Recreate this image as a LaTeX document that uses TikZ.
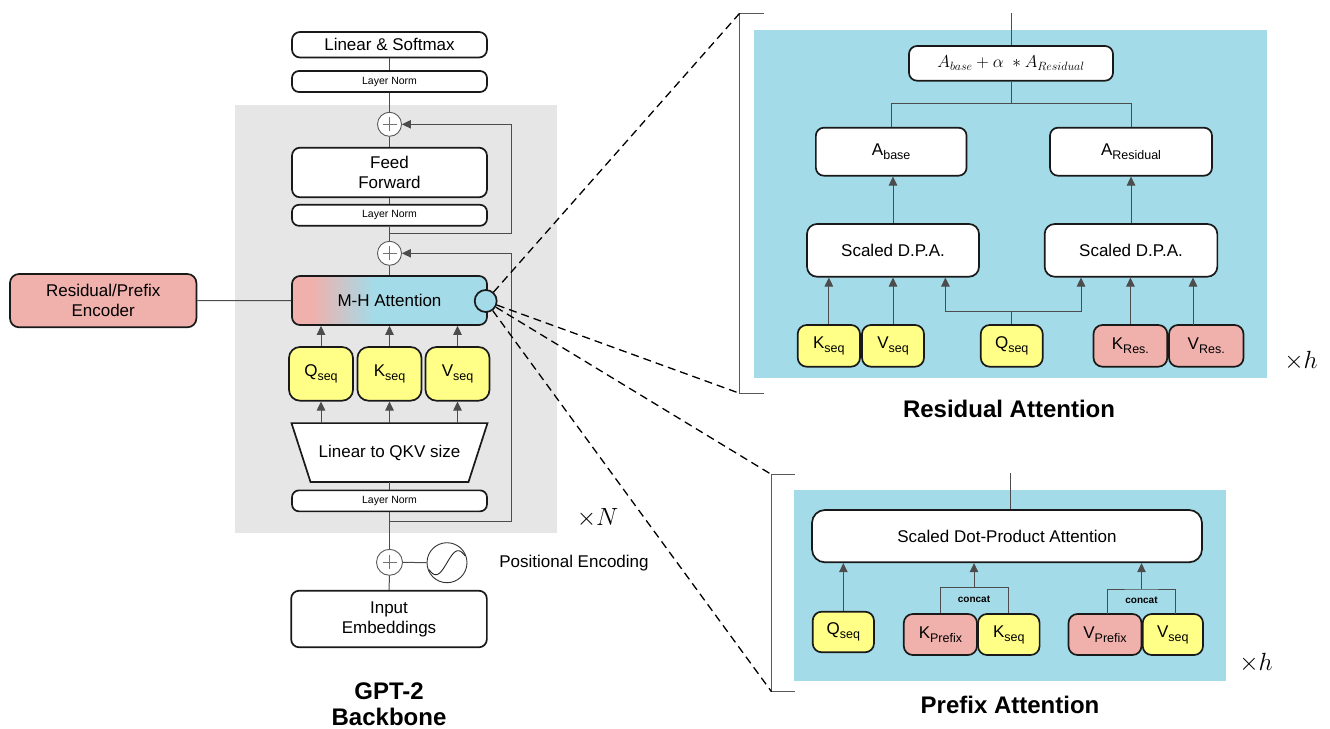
\documentclass[tikz,border=0pt]{standalone}
\usepackage{fontspec}
\setmainfont{Liberation Sans}
\usetikzlibrary{arrows.meta}
\definecolor{graybg}{RGB}{230,230,230}
\definecolor{attblue}{RGB}{164,219,232}
\definecolor{seqyellow}{RGB}{255,255,136}
\definecolor{encpink}{RGB}{240,176,172}
\pgfdeclarehorizontalshading{mhsh}{100bp}{color(0bp)=(encpink); color(30bp)=(encpink); color(46bp)=(attblue); color(100bp)=(attblue)}
\newcommand\sbs[1]{\raisebox{-4pt}{\fontsize{12.5}{13}\selectfont #1}}
\begin{document}
\begin{tikzpicture}[x=1pt,y=-1pt,
  box/.style={draw=black!90, line width=1.7pt, rounded corners=8pt, fill=white, inner sep=0pt, align=center, font=\fontsize{17}{20}\selectfont},
  lnbox/.style={box, rounded corners=7pt, font=\fontsize{10.5}{12}\selectfont, minimum width=195pt, minimum height=21pt},
  yel/.style={box, fill=seqyellow, rounded corners=11pt},
  pnk/.style={box, fill=encpink, rounded corners=11pt},
  conn/.style={draw=black!70, line width=1pt},
  arr/.style={conn, -{Triangle[length=9pt,width=8.5pt]}},
  plusc/.style={circle, draw=black!65, line width=0.9pt, fill=white, minimum size=24pt, inner sep=0pt},
  plusl/.style={draw=black!55, line width=0.8pt},
  dsh/.style={draw=black, line width=1.3pt, dash pattern=on 8pt off 5pt},
  brk/.style={draw=black!65, line width=1.1pt},
  ttl/.style={font=\fontsize{24}{26}\selectfont\bfseries, align=center},
  lbl/.style={font=\fontsize{17}{20}\selectfont},
  mth/.style={font=\fontsize{26}{26}\selectfont}
]
\useasboundingbox (0,0) rectangle (1330,728);

% ---------- left: GPT-2 backbone ----------
\fill[graybg] (235,105) rectangle (557,532.5);

\node[box, minimum width=195pt, minimum height=25.5pt] (ls) at (389.5,44.75) {Linear \& Softmax};
\node[lnbox] (ln1) at (389.5,81.5) {Layer Norm};
\node[plusc] (p1) at (389.5,124.3) {};
\node[box, minimum width=195pt, minimum height=49.6pt] (ff) at (389.5,172.5) {Feed\\Forward};
\node[lnbox] (ln2) at (389.5,215.3) {Layer Norm};
\node[plusc] (p2) at (389.5,253.3) {};
\node[box, shade, shading=mhsh, minimum width=195pt, minimum height=49pt] (mh) at (389.5,300.5) {M-H Attention};
\node[pnk, rounded corners=9pt, minimum width=186.4pt, minimum height=53.3pt] (enc) at (103.2,300.65) {Residual/Prefix\\Encoder};
\node[yel, minimum width=64pt, minimum height=53.7pt] (q) at (321,373.85) {Q\sbs{seq}};
\node[yel, minimum width=64pt, minimum height=53.7pt] (k) at (389.5,373.85) {K\sbs{seq}};
\node[yel, minimum width=64pt, minimum height=53.7pt] (v) at (457.5,373.85) {V\sbs{seq}};
\node[inner sep=0pt, minimum width=195.6pt, minimum height=58.4pt] (trap) at (389.5,452.5) {};
\draw[draw=black!90, line width=1.7pt, fill=white] (trap.north west) -- (trap.north east) -- ([xshift=-19pt]trap.south east) -- ([xshift=19pt]trap.south west) -- cycle;
\node[font=\fontsize{17}{20}\selectfont] (traptxt) at (trap.center) {Linear to QKV size};
\node[lnbox] (ln3) at (389.5,500.85) {Layer Norm};
\node[plusc, minimum size=26pt] (p3) at (389.5,562.3) {};
\node[circle, draw=black!80, line width=0.9pt, fill=white, minimum size=40pt, inner sep=0pt] (sine) at (447,562.7) {};
\draw[black!85, line width=0.9pt, shift={(sine.center)}] plot[domain=-1:1, samples=40, smooth] ({18*\x},{-12*sin(145*\x)});
\node[box, minimum width=195.7pt, minimum height=56.6pt] (emb) at (389,619) {Input\\Embeddings};

\foreach \p in {p1,p2,p3}{
  \draw[plusl] ([xshift=-7pt]\p.center) -- ([xshift=7pt]\p.center) ([yshift=-7pt]\p.center) -- ([yshift=7pt]\p.center);
}

% main vertical line
\draw[conn] (ls.south) -- (ln1.north);
\draw[conn] (ln1.south) -- (p1.north);
\draw[conn] (p1.south) -- (ff.north);
\draw[conn] (ff.south) -- (ln2.north);
\draw[conn] (ln2.south) -- (p2.north);
\draw[conn] (p2.south) -- (mh.north);
\draw[conn] (trap.south) -- (ln3.north);
\draw[conn] (ln3.south) -- (p3.north);
\draw[conn] (p3.south) -- (emb.north);
\draw[conn] (p3.east) -- (sine.west);
\draw[conn] (enc.east) -- (mh.west);

% residual loops
\coordinate (l1s) at (389.5,233);
\coordinate (l1c) at (511.5,233);
\draw[arr] (l1s) -- (l1c) |- (p1.east);
\coordinate (l2s) at (389.5,521.7);
\coordinate (l2c) at (511.5,521.7);
\draw[arr] (l2s) -- (l2c) |- (p2.east);

% arrows Q K V
\foreach \n in {q,k,v}{
  \draw[arr] (\n.south |- trap.north) -- (\n.south);
  \draw[arr] (\n.north) -- (\n.north |- mh.south);
}

\node[circle, draw=black!90, line width=1.7pt, fill=attblue, minimum size=22pt, inner sep=0pt] (bc) at (485.7,301) {};

\node[mth] (xn) at (597.5,518) {$\times N$};
\node[lbl] (pe) at (574,562.7) {Positional Encoding};
\node[ttl] (gpt) at (389,704) {GPT-2\\Backbone};

% ---------- residual attention ----------
\fill[attblue] (753.8,30) rectangle (1266.5,377.7);
\coordinate (rbt) at (739.6,13.3);
\coordinate (rbb) at (739.6,393.3);
\coordinate (rbt2) at (763.8,13.3);
\coordinate (rbb2) at (763.8,393.3);
\draw[brk] (rbt2) -- (rbt) -- (rbb) -- (rbb2);

\node[box, minimum width=204pt, minimum height=34.7pt, font=\fontsize{17}{20}\selectfont] (form) at (1011,63.35) {$A_{base}+\alpha\;\ast A_{Residual}$};
\coordinate (rtop) at (1011,13);
\draw[conn] (rtop) -- (form.north);
\node[box, minimum width=150.7pt, minimum height=48pt] (ab) at (891.2,151.7) {A\sbs{base}};
\node[box, minimum width=162pt, minimum height=48pt] (ar) at (1131,151.7) {A\sbs{Residual}};
\coordinate (jn) at (1011,103.3);
\draw[conn] (form.south) -- (jn);
\draw[conn] (ab.north) |- (jn) -| (ar.north);
\node[box, rounded corners=10pt, minimum width=172pt, minimum height=52.7pt] (sd1) at (893,250.35) {Scaled D.P.A.};
\node[box, rounded corners=10pt, minimum width=172.7pt, minimum height=52.7pt] (sd2) at (1131,250.35) {Scaled D.P.A.};
\draw[arr] (sd1.north) -- (sd1.north |- ab.south);
\draw[arr] (sd2.north) -- (sd2.north |- ar.south);

\node[yel, rounded corners=9pt, minimum width=62.3pt, minimum height=41.7pt] (rk) at (828.85,345.85) {K\sbs{seq}};
\node[yel, rounded corners=9pt, minimum width=62pt, minimum height=41.7pt] (rv) at (893,345.85) {V\sbs{seq}};
\node[yel, rounded corners=9pt, minimum width=62pt, minimum height=41.7pt] (rq) at (1011.75,345.85) {Q\sbs{seq}};
\node[pnk, rounded corners=9pt, minimum width=73.8pt, minimum height=41.7pt] (rkr) at (1130.4,345.85) {K\sbs{Res.}};
\node[pnk, rounded corners=9pt, minimum width=74.5pt, minimum height=41.7pt] (rvr) at (1206.25,345.85) {V\sbs{Res.}};

\draw[arr] (rk.north) -- (rk.north |- sd1.south);
\draw[arr] (rv.north) -- (rv.north |- sd1.south);
\draw[arr] (rkr.north) -- (rkr.north |- sd2.south);
\coordinate (vra) at (1193,325);
\draw[arr] (vra) -- (vra |- sd2.south);
\coordinate (qj) at (1011.75,311.7);
\coordinate (qa1) at (945.4,311.7);
\coordinate (qa2) at (1081,311.7);
\draw[conn] (rq.north) -- (qj);
\draw[arr] (qj) -- (qa1) -- (qa1 |- sd1.south);
\draw[arr] (qj) -- (qa2) -- (qa2 |- sd2.south);

\node[mth] (xh1) at (1301,361) {$\times h$};
\node[ttl] (rat) at (1009,409) {Residual Attention};

% ---------- prefix attention ----------
\fill[attblue] (793.5,490) rectangle (1226,680.7);
\coordinate (pbt) at (771.5,474.5);
\coordinate (pbb) at (771.5,691.7);
\coordinate (pbt2) at (794.6,474.5);
\coordinate (pbb2) at (794.6,691.7);
\draw[brk] (pbt2) -- (pbt) -- (pbb) -- (pbb2);

\node[box, rounded corners=13pt, minimum width=390pt, minimum height=52.3pt] (psd) at (1007,536.15) {Scaled Dot-Product Attention};
\coordinate (ptop) at (1010,473);
\draw[conn] (ptop) -- (ptop |- psd.north);

\node[yel, rounded corners=9pt, minimum width=61.3pt, minimum height=40.6pt] (pq) at (843.35,632) {Q\sbs{seq}};
\node[pnk, rounded corners=9pt, minimum width=73.2pt, minimum height=41pt] (pkp) at (940.4,634.5) {K\sbs{Prefix}};
\node[yel, rounded corners=9pt, minimum width=61.6pt, minimum height=41pt] (pks) at (1008.8,634.5) {K\sbs{seq}};
\node[pnk, rounded corners=9pt, minimum width=73pt, minimum height=41pt] (pvp) at (1105,634.5) {V\sbs{Prefix}};
\node[yel, rounded corners=9pt, minimum width=60.3pt, minimum height=41pt] (pvs) at (1172.85,634.5) {V\sbs{seq}};

\draw[arr] (pq.north) -- (pq.north |- psd.south);
\coordinate (kc) at (974,587.3);
\draw[conn] (pkp.north) |- (kc) -| (pks.north);
\draw[arr] (kc) -- (kc |- psd.south);
\node[font=\fontsize{10}{12}\selectfont\bfseries] (kcl) at (974,599) {concat};
\coordinate (vc) at (1141.5,589);
\coordinate (vcl0) at (1107.7,614);
\coordinate (vcr0) at (1175.4,614);
\draw[conn] (vcl0) |- (vc) -| (vcr0);
\draw[arr] (vc) -- (vc |- psd.south);
\node[font=\fontsize{10}{12}\selectfont\bfseries] (vcl) at (1141.5,600.5) {concat};

\node[mth] (xh2) at (1256,663) {$\times h$};
\node[ttl] (pat) at (1010,705) {Prefix Attention};

% ---------- dashed zoom lines ----------
\draw[dsh] (bc) -- (rbt);
\draw[dsh] (bc) -- (rbb);
\draw[dsh] (bc) -- (pbt);
\draw[dsh] (bc) -- (pbb);
\end{tikzpicture}
\end{document}
